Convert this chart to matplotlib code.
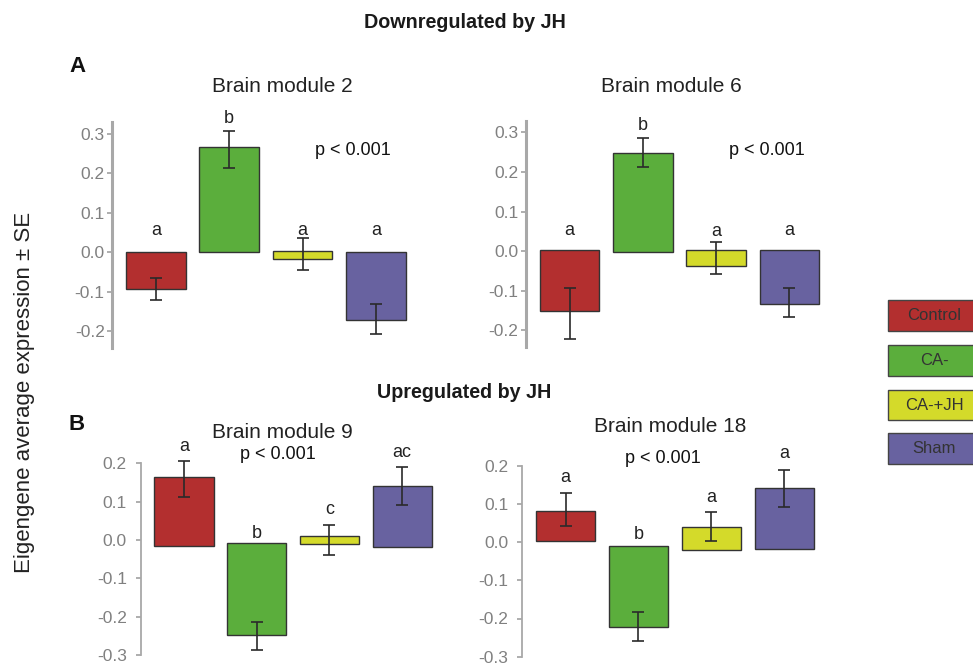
import numpy as np
import matplotlib
matplotlib.use("Agg")
import matplotlib.pyplot as plt
from matplotlib.patches import Rectangle

plt.rcParams['font.family'] = ['Liberation Sans', 'DejaVu Sans']
plt.rcParams['axes.unicode_minus'] = False

groups = ["Control", "CA-", "CA-+JH", "Sham"]
colors = ["#B32F2F", "#5BAE3C", "#D4DA2A", "#6862A0"]

# brain module 2 (downregulated)
m2_base = [0.0, 0.0, 0.002, 0.0]
m2_end = [-0.094, 0.267, -0.018, -0.172]
m2_err_lo = [-0.121, 0.212, -0.045, -0.208]
m2_err_hi = [-0.067, 0.307, 0.035, -0.132]
m2_letters = ["a", "b", "a", "a"]

# brain module 6 (downregulated)
m6_base = [0.003, -0.002, 0.003, 0.003]
m6_end = [-0.151, 0.247, -0.038, -0.133]
m6_err_lo = [-0.223, 0.212, -0.057, -0.167]
m6_err_hi = [-0.094, 0.287, 0.022, -0.093]
m6_letters = ["a", "b", "a", "a"]

# brain module 9 (upregulated)
m9_base = [-0.015, -0.009, -0.010, -0.019]
m9_end = [0.164, -0.247, 0.011, 0.141]
m9_err_lo = [0.113, -0.288, -0.039, 0.090]
m9_err_hi = [0.205, -0.213, 0.038, 0.190]
m9_letters = ["a", "b", "c", "ac"]

# brain module 18 (upregulated)
m18_base = [0.002, -0.009, -0.020, -0.017]
m18_end = [0.081, -0.223, 0.039, 0.142]
m18_err_lo = [0.043, -0.260, 0.002, 0.091]
m18_err_hi = [0.128, -0.184, 0.079, 0.189]
m18_letters = ["a", "b", "a", "a"]

top_ticks = [-0.2, -0.1, 0.0, 0.1, 0.2, 0.3]
bottom_ticks = [-0.3, -0.2, -0.1, 0.0, 0.1, 0.2]

W, H = 973, 666
fig = plt.figure(figsize=(W / 100, H / 100), dpi=100)


def px_axes(left, top, width, height):
    return fig.add_axes([left / W, 1 - (top + height) / H, width / W, height / H])


panels = [
    # title, base, end, lo, hi, letters, letter_y, p_xy, rect(px), ylim, ticks, spine_lw, pad, title_xy
    ("Brain module 2", m2_base, m2_end, m2_err_lo, m2_err_hi, m2_letters,
     [0.055, 0.338, 0.055, 0.055], (2.69, 0.258), (112.3, 121.7, 307.5, 226.3),
     (-0.243, 0.33), top_ticks, 2.2, 2, (282, 87)),
    ("Brain module 6", m6_base, m6_end, m6_err_lo, m6_err_hi, m6_letters,
     [0.053, 0.318, 0.049, 0.053], (2.69, 0.255), (526, 121, 307.3, 225.7),
     (-0.242, 0.329), top_ticks, 2.2, 2, (671, 87)),
    ("Brain module 9", m9_base, m9_end, m9_err_lo, m9_err_hi, m9_letters,
     [0.245, 0.017, 0.079, 0.227], (1.29, 0.223), (140.7, 463.3, 305.2, 191.7),
     (-0.3, 0.2), bottom_ticks, 1.3, 6.5, (282, 432)),
    ("Brain module 18", m18_base, m18_end, m18_err_lo, m18_err_hi, m18_letters,
     [0.168, 0.021, 0.118, 0.231], (1.33, 0.22), (522.3, 465.7, 305.6, 191),
     (-0.3, 0.2), bottom_ticks, 1.3, 6.5, (670, 427)),
]

x = np.arange(len(groups))
for (title, base, end, lo, hi, letters, letter_y, p_xy, rect, ylim, ticks,
     spine_lw, pad, title_xy) in panels:
    ax = px_axes(*rect)
    base = np.array(base)
    end = np.array(end)
    lo = np.array(lo)
    hi = np.array(hi)
    ax.bar(x, end - base, bottom=base, width=0.814, color=colors,
           edgecolor="#333333", linewidth=1.0, zorder=2)
    mid = (lo + hi) / 2
    ax.errorbar(x, mid, yerr=(hi - lo) / 2, fmt="none", ecolor="#2a2a2a",
                elinewidth=1.2, capsize=4.5, capthick=1.2, zorder=3, clip_on=False)
    for xi, lt, ly in zip(x, letters, letter_y):
        ax.text(xi, ly, lt, ha="center", va="center", fontsize=13, color="#222222")
    ax.text(p_xy[0], p_xy[1], "p < 0.001", ha="center", va="center",
            fontsize=13, color="#111111")
    ax.set_xlim(-0.595, 3.6)
    ax.set_ylim(*ylim)
    ax.set_yticks(ticks)
    ax.set_yticklabels(["%.1f" % t for t in ticks])
    ax.set_xticks([])
    for s in ["top", "right", "bottom"]:
        ax.spines[s].set_visible(False)
    ax.spines["left"].set_color("#A8A8A8")
    ax.spines["left"].set_linewidth(spine_lw)
    ax.tick_params(axis="y", colors="#A8A8A8", length=3.5, width=1.3, pad=pad,
                   labelsize=12.5, labelcolor="#808080")
    ax.patch.set_alpha(0)
    fig.text(title_xy[0] / W, 1 - title_xy[1] / H, title, ha="center",
             va="center", fontsize=15, color="#222222")

# headings
fig.text(465 / W, 1 - 22 / H, "Downregulated by JH", ha="center", va="center",
         fontsize=14.2, fontweight="bold", color="#1a1a1a")
fig.text(464 / W, 1 - 393 / H, "Upregulated by JH", ha="center", va="center",
         fontsize=14.2, fontweight="bold", color="#1a1a1a")
fig.text(77 / W, 1 - 66 / H, "A", ha="center", va="center", fontsize=16,
         fontweight="bold", color="#111111")
fig.text(77 / W, 1 - 425 / H, "B", ha="center", va="center", fontsize=16,
         fontweight="bold", color="#111111")
fig.text(25 / W, 1 - 392 / H, "Eigengene average expression ± SE", rotation=90,
         ha="center", va="center", fontsize=16, color="#222222")

# legend boxes on the right edge
legend_tops = [300, 345.3, 389.7, 433.3]
for name, col, ty in zip(groups, colors, legend_tops):
    fig.add_artist(Rectangle((888 / W, 1 - (ty + 30.5) / H), 100 / W, 30.5 / H,
                             transform=fig.transFigure, facecolor=col,
                             edgecolor="#444444", linewidth=1.0))
    fig.text(934 / W, 1 - (ty + 15.5) / H, name, ha="center", va="center",
             fontsize=12, color="#333333")

fig.savefig("out.png", dpi=100, facecolor="white")
